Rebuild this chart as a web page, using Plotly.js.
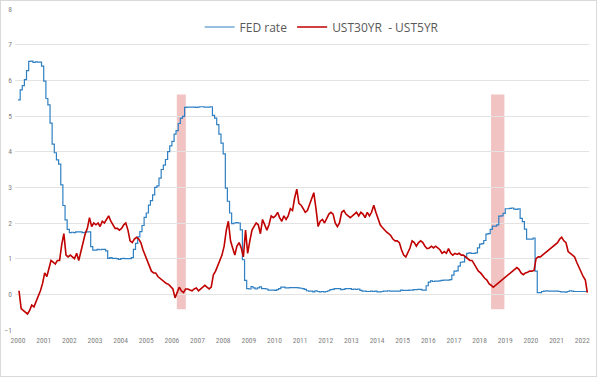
<!DOCTYPE html>
<html><head><meta charset="utf-8">
<script src="https://cdn.plot.ly/plotly-3.0.1.min.js"></script>
<style>html,body{margin:0;padding:0;background:#fff}#c{width:595px;height:375px;border:1px solid #d9d9d9}</style>
</head><body><div id="c"></div><script>
const startYear = 2000;
const seriesNames = ['FED rate', 'UST30YR  - UST5YR'];
const fedRate = [
5.45,5.73,5.85,6.02,6.27,6.53,6.54,6.50,6.52,6.51,6.51,6.40,
5.98,5.49,5.31,4.80,4.21,3.97,3.77,3.65,3.07,2.49,2.09,1.82,
1.73,1.74,1.73,1.75,1.75,1.75,1.73,1.74,1.75,1.75,1.34,1.24,
1.24,1.26,1.25,1.26,1.26,1.22,1.01,1.03,1.01,1.01,1.00,0.98,
1.00,1.01,1.00,1.00,1.00,1.03,1.26,1.43,1.61,1.76,1.93,2.16,
2.28,2.50,2.63,2.79,3.00,3.04,3.26,3.50,3.62,3.78,4.00,4.16,
4.29,4.49,4.59,4.79,4.94,4.99,5.24,5.25,5.25,5.25,5.25,5.24,
5.25,5.26,5.26,5.25,5.25,5.25,5.26,5.02,4.94,4.76,4.49,4.24,
3.94,2.98,2.61,2.28,1.98,2.00,2.01,2.00,1.81,0.97,0.39,0.16,
0.15,0.22,0.18,0.15,0.18,0.21,0.16,0.16,0.15,0.12,0.12,0.12,
0.11,0.13,0.16,0.20,0.20,0.18,0.18,0.19,0.19,0.19,0.19,0.18,
0.17,0.16,0.14,0.10,0.09,0.09,0.07,0.10,0.08,0.07,0.08,0.07,
0.08,0.10,0.13,0.14,0.16,0.16,0.16,0.13,0.14,0.16,0.16,0.16,
0.14,0.15,0.14,0.15,0.11,0.09,0.09,0.08,0.08,0.09,0.08,0.09,
0.07,0.07,0.08,0.09,0.09,0.10,0.09,0.09,0.09,0.09,0.09,0.12,
0.11,0.11,0.11,0.12,0.12,0.13,0.13,0.14,0.14,0.12,0.12,0.24,
0.34,0.38,0.36,0.37,0.37,0.38,0.39,0.40,0.40,0.40,0.41,0.54,
0.65,0.66,0.79,0.90,0.91,1.04,1.15,1.16,1.15,1.15,1.16,1.30,
1.41,1.42,1.51,1.69,1.70,1.82,1.91,1.91,1.95,2.19,2.20,2.27,
2.40,2.40,2.41,2.42,2.39,2.38,2.40,2.13,2.04,1.83,1.55,1.55,
1.55,1.58,0.65,0.05,0.05,0.08,0.09,0.10,0.09,0.09,0.09,0.09,
0.09,0.08,0.07,0.07,0.06,0.08,0.10,0.09,0.08,0.08,0.08,0.08,
0.08,0.08,0.10
];
const spread = [
0.1,-0.4,-0.45,-0.5,-0.55,-0.45,-0.3,-0.35,-0.2,0.0,0.1,0.3,
0.6,0.5,0.75,0.95,0.9,0.85,0.95,0.95,1.4,1.7,1.1,1.05,
1.1,1.05,1.0,1.15,0.95,1.2,1.45,1.7,1.85,2.15,1.9,2.0,
1.95,2.0,1.9,2.05,2.0,2.1,2.2,2.05,1.95,1.85,1.85,1.8,
1.85,1.95,2.0,1.8,1.5,1.45,1.55,1.6,1.55,1.45,1.25,1.1,
0.95,0.8,0.65,0.6,0.6,0.5,0.45,0.4,0.35,0.3,0.28,0.22,
0.15,-0.1,0.05,0.2,0.1,0.05,0.15,0.15,0.12,0.1,0.15,0.18,
0.1,0.15,0.2,0.25,0.2,0.15,0.2,0.55,0.65,0.8,0.95,1.1,
1.35,1.8,2.05,1.5,1.3,1.1,1.35,1.45,1.3,1.05,1.8,1.15,
1.5,1.8,1.9,2.0,1.95,1.7,2.1,1.95,1.8,1.95,2.2,2.15,
2.2,2.3,2.15,2.05,2.2,2.1,2.2,2.4,2.35,2.7,2.95,2.55,
2.5,2.4,2.3,2.35,2.5,2.7,2.85,2.4,1.9,2.05,2.1,2.0,
2.15,2.25,2.3,2.25,2.0,1.9,2.0,2.3,2.35,2.25,2.2,2.15,
2.2,2.25,2.3,2.2,2.3,2.25,2.15,2.3,2.2,2.3,2.5,2.3,
2.1,1.95,1.88,1.8,1.75,1.7,1.65,1.55,1.5,1.5,1.45,1.25,
1.1,1.05,1.15,1.3,1.5,1.45,1.35,1.45,1.5,1.45,1.35,1.28,
1.3,1.35,1.3,1.35,1.3,1.25,1.15,1.2,1.15,1.28,1.15,1.1,
1.15,1.12,1.15,1.1,1.1,1.05,1.0,0.95,0.95,0.85,0.75,0.65,
0.6,0.5,0.45,0.4,0.3,0.25,0.2,0.25,0.3,0.35,0.4,0.45,
0.5,0.55,0.58,0.65,0.7,0.75,0.7,0.6,0.55,0.6,0.62,0.65,
0.65,0.67,1.0,1.05,1.05,1.1,1.15,1.2,1.25,1.3,1.35,1.4,
1.45,1.55,1.6,1.5,1.45,1.2,1.15,1.1,1.05,0.9,0.75,0.65,
0.5,0.4,0.05
];
const yearTicks = ['2000','2001','2002','2003','2004','2005','2006','2007','2008','2009','2010','2011','2012','2013','2014','2015','2016','2017','2018','2019','2020','2021','2022'];
const shadeStart = ['2006-03-12','2018-06-13'];
const shadeEnd = ['2006-07-18','2018-12-20'];
const shadeLow = -0.42, shadeHigh = 5.6;

function monthDates(n, day){
  const out=[];
  for(let i=0;i<n;i++){
    const y=startYear+Math.floor(i/12), m=(i%12)+1;
    out.push(y+'-'+String(m).padStart(2,'0')+'-'+day);
  }
  return out;
}

const traces = [
  {x: monthDates(fedRate.length,'01'), y: fedRate, name: seriesNames[0], type:'scatter', mode:'lines',
   line:{color:'#2f80c3', width:1.2, shape:'hv'}},
  {x: monthDates(spread.length,'15'), y: spread, name: seriesNames[1], type:'scatter', mode:'lines',
   line:{color:'#c00000', width:1.6}}
];

const shapes = shadeStart.map((s,i)=>({type:'rect', xref:'x', yref:'y', x0:s, x1:shadeEnd[i], y0:shadeLow, y1:shadeHigh,
  fillcolor:'#f2c3c3', line:{width:0}, layer:'below'}));

const tickFont = {family:'Liberation Sans Narrow, Roboto Condensed, Liberation Sans, sans-serif', size:7.5, color:'#7f7f7f'};

const layout = {
  width:595, height:375,
  margin:{l:14, r:7, t:8, b:46},
  paper_bgcolor:'#fff', plot_bgcolor:'#fff',
  showlegend:true,
  legend:{orientation:'h', x:0.535, xanchor:'center', y:0.944, yanchor:'middle',
    font:{family:'Open Sans, sans-serif', size:12, color:'#595959'}, bgcolor:'rgba(0,0,0,0)', itemwidth:30},
  xaxis:{type:'date', range:['1999-11-19','2022-04-08'], tickvals:yearTicks.map(y=>y+'-01-01'), ticktext:yearTicks,
    showgrid:false, zeroline:false, showline:false, ticks:'', tickfont:tickFont, ticklabelstandoff:4},
  yaxis:{range:[-1,8], dtick:1, tick0:0, showgrid:true, gridcolor:'#e3e3e3', gridwidth:1, zeroline:false, showline:false,
    ticks:'', tickfont:tickFont, ticklabelstandoff:2},
  shapes: shapes
};

Plotly.newPlot('c', traces, layout, {displayModeBar:false, staticPlot:true});
</script></body></html>
